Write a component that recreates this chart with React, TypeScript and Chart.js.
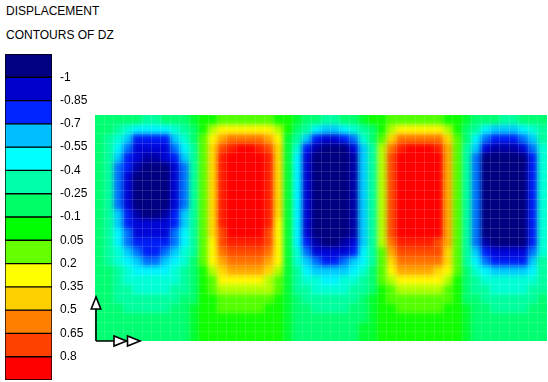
import { useEffect, useRef } from 'react';
import { Chart, registerables } from 'chart.js';

Chart.register(...registerables);

const TITLE_LINES = ['DISPLACEMENT', 'CONTOURS OF DZ'];

// contour level boundaries shown in the colour bar
const LEVELS = [-1, -0.85, -0.7, -0.55, -0.4, -0.25, -0.1, 0.05, 0.2, 0.35, 0.5, 0.65, 0.8];
const LEVEL_LABELS = ['-1', '-0.85', '-0.7', '-0.55', '-0.4', '-0.25', '-0.1', '0.05', '0.2', '0.35', '0.5', '0.65', '0.8'];
const BAND_COLORS = [
  '#000080', '#0000CC', '#0024FF', '#00BFFF', '#00FFFF', '#00FFAA', '#00FF66',
  '#00FF00', '#66FF00', '#FFFF00', '#FFD000', '#FF8000', '#FF4000', '#FF0000',
];

// DZ on a 48 x 24 grid (top row first).
// codes: '0' = 0, a..k = -0.1..-1.1, A..J = +0.1..+1.0
const DZ_ROWS = [
  'bbbbbccbbba' + '00AAAAAA0' + '0abbccbba0' + '0AAAAAA00' + 'abbbccbbb',
  'bbcdeeeedcb' + '0BCCCCCCB' + '0bceffedcb' + '0BCCCCCB0' + 'bcefffedc',
  'bcdfhhhhfdb' + 'ACEFFFFEC' + 'acfhiihgdb' + 'ADFFFFFDA' + 'beghhhgfc',
  'bcegiiiigec' + 'ADGHIIHGD' + 'adhjkkkifc' + 'BFHIIIHEA' + 'cfijjjigd',
  'bcfhijjihfc' + 'ADHJJJJHD' + 'aeikkkkjfc' + 'BGJJJJIEA' + 'cgkkkkkhd',
  'bcghjkkkigc' + 'ADHJJJJHD' + 'aeikkkkjfc' + 'BGJJJJIEA' + 'cgkkkkkhd',
  'bcgikkkkigc' + 'ADHJJJJHD' + 'aeikkkkjfc' + 'BGJJJJIEA' + 'cgkkkkkhd',
  'bcgikkkkigc' + 'ADHJJJJHD' + 'aeikkkkjfc' + 'BGJJJJIEA' + 'cgkkkkkhd',
  'bcgikkkkigc' + 'ADHJJJJHD' + 'aeikkkkjfc' + 'BGJJJJIEA' + 'cgkkkkkhd',
  'bcgikkkkigc' + 'ADHJJJJHD' + 'aeikkkkjfc' + 'BGJJJJIEA' + 'cgkkkkkhd',
  'bcfhjkkjhfc' + 'ADHJJJJHD' + 'aeikkkkjfc' + 'BGJJJJIEA' + 'cgkkkkkhd',
  'bcfhiiiihfc' + 'ADHJJJJHC' + 'aeikkkkjfc' + 'BGJJJJIEA' + 'cgkkkkkhd',
  'bcegiiiigec' + 'ADGIJJIGC' + 'aeikkkkjfc' + 'BGIJJJIEA' + 'cgkkkkkhd',
  'bceghhhhgec' + 'ACGHHHHGC' + 'aehjkkjifc' + 'BFHHHHGEA' + 'cgjkkkkhd',
  'bcdfghhgfdc' + 'ACFGGGGFC' + 'adgiiiihec' + 'AEGGGGGDA' + 'cfhiiiigd',
  'bcdefggfedb' + 'ACEFFFFEC' + 'adfghhgfec' + 'ADFFFFFDA' + 'ceghhhhfc',
  'bbcdeeeedcb' + '0BDEEEEDB' + 'aceffffedb' + 'ACEEEEDCA' + 'bdeffffec',
  'bbcddddddcb' + '0ACCCCCBA' + 'acddeeddcb' + 'ABCCCCCB0' + 'bcddddddc',
  'bbccddddccb' + '0ABBBBBBA' + 'accddddccb' + '0ABBBBBA0' + 'bccddddcc',
  'bbcccccccbb' + '00AAAAAA0' + 'abccccccba' + '0AAAAAAA0' + 'bbccccccb',
  'bbbcccccbba' + '00AAAAA00' + 'abbccccbba' + '00AAAAA00' + 'abbccccbb',
  'bbbbbbbbbba' + '000000000' + 'abbbbbbbba' + '000000000' + 'abbbbbbbb',
  'bbbbbbbbbba' + '000000000' + 'abbbbbbbaa' + '000000000' + 'abbbbbbbb',
  'bbbbbbbbbba' + '000000000' + 'abbbbbbbaa' + '000000000' + 'abbbbbbbb',
];

const FONT = 'Arial, "Liberation Sans", sans-serif';
const MESH = 'rgba(255,255,255,0.13)';

function decode(ch: string): number {
  if (ch === '0') return 0;
  const lo = 'abcdefghijk'.indexOf(ch);
  if (lo >= 0) return -(lo + 1) / 10;
  const hi = 'ABCDEFGHIJ'.indexOf(ch);
  return (hi + 1) / 10;
}

function hexToRgb(h: string): number[] {
  return [1, 3, 5].map((i) => parseInt(h.slice(i, i + 2), 16));
}

// band centres: mid-points between contour levels, half a step beyond the ends
const BAND_CENTERS = BAND_COLORS.map((_, k) => {
  const step = LEVELS[1] - LEVELS[0];
  if (k === 0) return LEVELS[0] - step / 2;
  if (k === BAND_COLORS.length - 1) return LEVELS[LEVELS.length - 1] + step / 2;
  return (LEVELS[k - 1] + LEVELS[k]) / 2;
});
const BAND_RGB = BAND_COLORS.map(hexToRgb);

function colorFor(v: number): string {
  const n = BAND_CENTERS.length;
  if (v <= BAND_CENTERS[0]) return BAND_COLORS[0];
  if (v >= BAND_CENTERS[n - 1]) return BAND_COLORS[n - 1];
  let k = 0;
  while (k < n - 2 && v > BAND_CENTERS[k + 1]) k++;
  const t = (v - BAND_CENTERS[k]) / (BAND_CENTERS[k + 1] - BAND_CENTERS[k]);
  const a = BAND_RGB[k];
  const b = BAND_RGB[k + 1];
  const c = a.map((x, i) => Math.round(x + (b[i] - x) * t));
  return `rgb(${c[0]},${c[1]},${c[2]})`;
}

// smooth (Gouraud-like) shading of the filled cells, edges clamped to the plot area
const shadePlugin = {
  id: 'shade',
  afterDatasetsDraw(chart: any) {
    const { ctx, chartArea: a, canvas } = chart;
    const x = Math.round(a.left);
    const y = Math.round(a.top);
    const w = Math.round(a.right) - x;
    const h = Math.round(a.bottom) - y;
    const p = 14;
    const off = document.createElement('canvas');
    off.width = w + 2 * p;
    off.height = h + 2 * p;
    const o = off.getContext('2d')!;
    o.drawImage(canvas, x, y, w, h, p, p, w, h);
    o.drawImage(canvas, x, y, w, 1, p, 0, w, p);
    o.drawImage(canvas, x, y + h - 1, w, 1, p, p + h, w, p);
    o.drawImage(off, p, 0, 1, h + 2 * p, 0, 0, p, h + 2 * p);
    o.drawImage(off, p + w - 1, 0, 1, h + 2 * p, p + w, 0, p, h + 2 * p);
    ctx.save();
    ctx.beginPath();
    ctx.rect(x, y, w, h);
    ctx.clip();
    ctx.filter = 'blur(2.8px)';
    ctx.drawImage(off, x - p, y - p);
    ctx.restore();
  },
};

const triadPlugin = {
  id: 'triad',
  afterDraw(chart: any) {
    const { ctx, chartArea } = chart;
    const x0 = chartArea.left + 1;
    const y0 = chartArea.bottom;
    ctx.save();
    ctx.strokeStyle = '#000';
    ctx.fillStyle = '#fff';
    ctx.lineWidth = 1.6;
    ctx.beginPath();
    ctx.moveTo(x0, y0);
    ctx.lineTo(x0, y0 - 34);
    ctx.moveTo(x0, y0);
    ctx.lineTo(x0 + 18, y0);
    ctx.stroke();
    ctx.beginPath();
    ctx.moveTo(x0, y0 - 44);
    ctx.lineTo(x0 - 4.8, y0 - 32);
    ctx.lineTo(x0 + 4.8, y0 - 32);
    ctx.closePath();
    ctx.fill();
    ctx.stroke();
    for (const tip of [x0 + 30.5, x0 + 44]) {
      ctx.beginPath();
      ctx.moveTo(tip, y0);
      ctx.lineTo(tip - 12.5, y0 - 5);
      ctx.lineTo(tip - 12.5, y0 + 5);
      ctx.closePath();
      ctx.fill();
      ctx.stroke();
    }
    ctx.restore();
  },
};

export default function App() {
  const mainRef = useRef<HTMLCanvasElement>(null);
  const barRef = useRef<HTMLCanvasElement>(null);

  useEffect(() => {
    const cells = DZ_ROWS.map((r) => r.split('').map(decode));
    const columnLabels = cells[0].map((_, i) => String(i + 1));
    const nCols = columnLabels.length;
    const nRows = DZ_ROWS.length;

    const main = new Chart(mainRef.current!, {
      type: 'bar',
      data: {
        labels: columnLabels,
        datasets: cells.map((row, j) => ({
          label: `row ${j + 1}`,
          data: row.map(() => 1),
          backgroundColor: row.map(colorFor),
          borderWidth: 0,
          barPercentage: 1,
          categoryPercentage: 1,
          stack: 'grid',
        })),
      },
      options: {
        responsive: false,
        animation: false,
        events: [],
        layout: { padding: { left: 95, top: 115, right: 1, bottom: 41 } },
        plugins: { legend: { display: false }, tooltip: { enabled: false } },
        scales: {
          x: {
            stacked: true,
            ticks: { display: false },
            border: { display: false },
            grid: {
              z: 1,
              drawTicks: false,
              color: (c: any) => (c.index === 0 || c.index >= nCols ? 'rgba(0,0,0,0)' : MESH),
            },
          },
          y: {
            stacked: true,
            min: 0,
            max: nRows,
            reverse: true,
            ticks: { display: false, stepSize: 1 },
            border: { display: false },
            grid: {
              z: 1,
              drawTicks: false,
              color: (c: any) => (c.index === 0 || c.index >= nRows ? 'rgba(0,0,0,0)' : MESH),
            },
          },
        },
      },
      plugins: [shadePlugin, triadPlugin],
    } as any);

    const bar = new Chart(barRef.current!, {
      type: 'bar',
      data: {
        labels: [''],
        datasets: BAND_COLORS.map((c, k) => ({
          label: `band ${k + 1}`,
          data: [1],
          backgroundColor: c,
          borderColor: '#000',
          borderWidth: 1,
          borderSkipped: false,
          barPercentage: 1,
          categoryPercentage: 1,
        })),
      },
      options: {
        responsive: false,
        animation: false,
        events: [],
        layout: { padding: { left: 5, top: 54, right: 0, bottom: 20 } },
        plugins: { legend: { display: false }, tooltip: { enabled: false } },
        scales: {
          x: { display: false, stacked: true },
          y: {
            stacked: true,
            position: 'right',
            min: 0,
            max: BAND_COLORS.length,
            reverse: true,
            grid: { display: false, drawTicks: false },
            border: { display: false },
            afterFit: (s: any) => {
              s.width = 43;
            },
            afterBuildTicks: (s: any) => {
              s.ticks = s.ticks.filter((t: any) => t.value >= 1 && t.value <= LEVEL_LABELS.length);
            },
            ticks: {
              stepSize: 1,
              autoSkip: false,
              padding: 8,
              color: '#000',
              font: { family: FONT, size: 12 },
              callback: (v: any) => LEVEL_LABELS[Number(v) - 1],
            },
          },
        },
      },
    } as any);

    return () => {
      main.destroy();
      bar.destroy();
    };
  }, []);

  return (
    <div
      style={{
        position: 'fixed',
        left: 0,
        top: 0,
        width: 548,
        height: 382,
        overflow: 'hidden',
        background: '#fff',
      }}
    >
      {TITLE_LINES.map((t, i) => (
        <div
          key={t}
          style={{
            position: 'absolute',
            left: 6,
            top: 4 + i * 24,
            font: `12px ${FONT}`,
            color: '#000',
            whiteSpace: 'nowrap',
          }}
        >
          {t}
        </div>
      ))}
      <canvas ref={barRef} width={95} height={400} style={{ position: 'absolute', left: 0, top: 0 }} />
      <canvas ref={mainRef} width={548} height={382} style={{ position: 'absolute', left: 0, top: 0 }} />
    </div>
  );
}
